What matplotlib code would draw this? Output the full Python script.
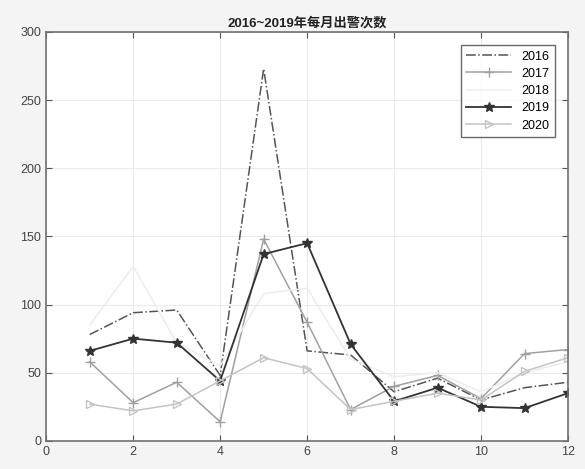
import matplotlib
matplotlib.use("Agg")
import matplotlib.pyplot as plt

plt.rcParams['font.family'] = ['Liberation Sans', 'Noto Sans CJK SC', 'DejaVu Sans']

months = [1, 2, 3, 4, 5, 6, 7, 8, 9, 10, 11, 12]
y2016 = [78, 94, 96, 48, 273, 66, 63, 36, 46, 30, 39, 43]
y2017 = [58, 28, 43, 14, 148, 87, 23, 40, 48, 31, 64, 67]
y2018 = [85, 128, 72, 55, 108, 112, 60, 47, 50, 36, 50, 58]
y2019 = [66, 75, 72, 44, 137, 145, 71, 29, 39, 25, 24, 35]
y2020 = [27, 22, 27, 44, 61, 53, 23, 29, 35, 30, 51, 61]
labels = ['2016', '2017', '2018', '2019', '2020']
title = '2016~2019年每月出警次数'

fig = plt.figure(figsize=(5.85, 4.69), dpi=100, facecolor='#f4f4f4')
ax = fig.add_axes([0.079, 0.060, 0.892, 0.872])
ax.set_facecolor('white')

ax.plot(months, y2016, linestyle='-.', color='#555555', lw=1.1, label=labels[0])
ax.plot(months, y2017, linestyle='-', color='#a0a0a0', lw=1.1, marker='+', ms=7, label=labels[1])
ax.plot(months, y2018, linestyle='-', color='#ededed', lw=1.1, marker='None', label=labels[2])
ax.plot(months, y2019, linestyle='-', color='#333333', lw=1.3, marker='*', ms=7, label=labels[3])
ax.plot(months, y2020, linestyle='-', color='#c4c4c4', lw=1.1, marker='>', ms=5.5,
        markerfacecolor='none', label=labels[4])

ax.set_xlim(0, 12)
ax.set_ylim(0, 300)
ax.set_xticks(range(0, 13, 2))
ax.set_yticks(range(0, 301, 50))
ax.grid(True, color='#ebebeb', lw=0.8)
ax.tick_params(direction='in', top=True, right=True, labelsize=9, colors='#555555',
               labelcolor='#444444', length=4)
for s in ax.spines.values():
    s.set_color('#707070')
    s.set_linewidth(1.2)

ax.set_title(title, fontsize=9.5, fontweight='bold', color='#222222', pad=4,
             family=['Liberation Sans', 'Noto Sans CJK SC'])

leg = ax.legend(loc='upper right', fontsize=9, frameon=True, fancybox=False,
                edgecolor='#444444', bbox_to_anchor=(0.975, 0.968), borderaxespad=0,
                handlelength=3.6, labelspacing=0.42, borderpad=0.45)
leg.get_frame().set_linewidth(1.0)

fig.savefig('out.png', dpi=100, facecolor=fig.get_facecolor())
